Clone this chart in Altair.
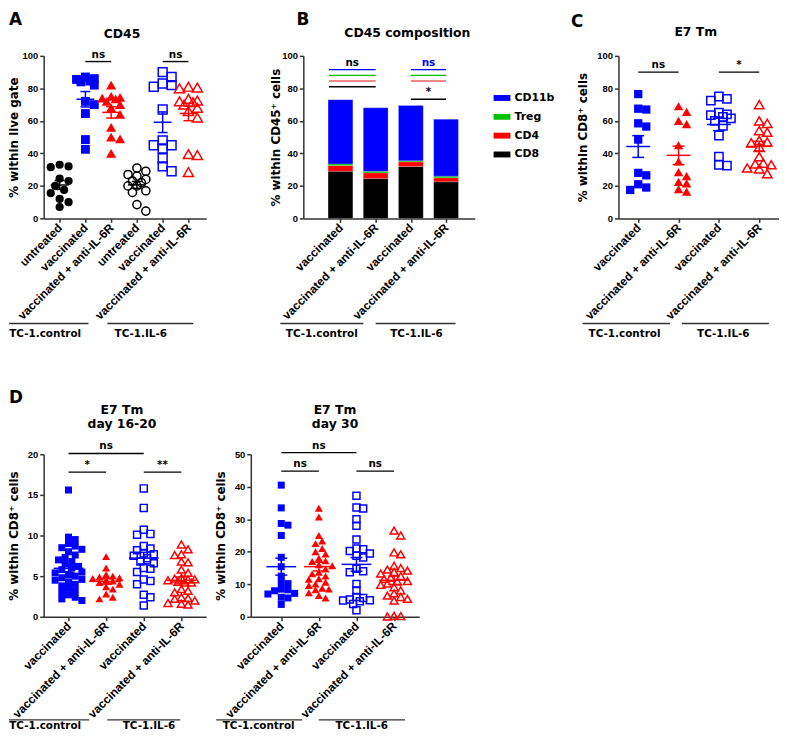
import altair as alt
import numpy as np
import pandas as pd

FT = "DejaVu Sans"
FL = "Liberation Sans"
BLUE = "#0000FF"
RED = "#FF0000"
BLACK = "#000000"
GREEN = "#00C000"
SALMON = "#F06060"
AXC = "#333333"

# ---------------- data ----------------
A_labels = ["untreated", "vaccinated", "vaccinated + anti-IL-6R",
            "untreated", "vaccinated", "vaccinated + anti-IL-6R"]
V_labels = ["vaccinated", "vaccinated + anti-IL-6R", "vaccinated", "vaccinated + anti-IL-6R"]
group_names = ["TC-1.control", "TC-1.IL-6"]

A_untreated_ctrl = [33, 32, 31.5, 24.5, 23, 20, 17.5, 15.5, 12, 10, 7]
A_vacc_ctrl = [87, 86, 85.5, 84.5, 84, 82, 72, 70, 64.5, 48.5, 42.5]
A_anti_ctrl = [82, 75, 74.5, 74, 73.5, 72, 70, 68, 64, 56, 50, 49, 40]
A_untreated_il6 = [31, 29, 27, 26, 24, 23, 22, 20, 20, 17, 16, 8.5, 4.5]
A_vacc_il6 = [90, 87, 83, 82, 81, 67, 48, 45, 45, 43, 37, 32, 29]
A_anti_il6 = [81, 80.5, 80, 73.5, 72.5, 72, 71.5, 70, 68, 66, 62, 39.5, 39, 28.5]

B_cells = ["CD11b", "Treg", "CD4", "CD8"]
B_CD8 = [29, 24.5, 32, 22.5]
B_CD4 = [3.5, 3.5, 2.8, 2.5]
B_Treg = [1, 1, 0.7, 1]
B_CD11b = [39.5, 39, 34, 35]

C_vacc_ctrl = [76.5, 67.5, 67, 58.5, 56.5, 48.5, 28, 26.5, 21, 19, 17.5]
C_anti_ctrl = [69, 65.5, 60, 58, 45, 35, 28.5, 26, 22.5, 21.5, 18, 16.5]
C_vacc_il6 = [75, 73.5, 72.5, 65, 64, 63.5, 62.5, 61.5, 60, 57, 51, 38, 33, 32.5]
C_anti_il6 = [70, 60, 58.5, 54, 53, 48, 47, 46.5, 44, 38, 34, 33.5, 33, 31, 30.5, 27.5]

D1_vacc_ctrl = [15.6, 9.8, 9.5, 9.0, 8.7, 8.5, 8.3, 8.0, 7.6, 7.3, 7.0, 6.8, 6.5, 6.2, 6.0, 5.8,
                5.5, 5.4, 5.2, 5.0, 4.8, 4.6, 4.5, 4.3, 4.0, 3.8, 3.5, 3.2, 3.0, 2.7, 2.4, 2.2, 2.0]
D1_anti_ctrl = [7.4, 6.0, 5.2, 5.0, 4.9, 4.8, 4.7, 4.5, 4.4, 4.2, 4.0, 3.7, 3.4, 2.8, 2.4, 2.2]
D1_vacc_il6 = [15.8, 13.4, 10.7, 10.2, 10.1, 8.7, 8.4, 8.2, 7.8, 7.7, 7.5, 7.2, 6.8, 6.6, 6.0,
               5.9, 5.5, 4.6, 4.4, 4.0, 2.7, 2.4, 1.4]
D1_anti_il6 = [8.9, 8.3, 7.7, 7.6, 6.8, 6.7, 5.8, 5.4, 4.8, 4.7, 4.6, 4.5, 4.3, 4.2, 4.6, 4.2,
               3.4, 3.2, 3.0, 2.4, 2.3, 2.2, 2.0, 1.7, 1.6, 1.5]

D2_vacc_ctrl = [40.5, 33.5, 28.7, 28.2, 25, 18.3, 15.4, 12.5, 10.5, 10.2, 8.5, 8.3, 8.0, 7.2,
                7.0, 6.0, 5.8, 3.8]
D2_anti_ctrl = [33.4, 30.7, 25, 23.3, 22.5, 21, 20, 19.3, 18, 17.2, 17, 16, 15.7, 14.7, 13.7,
                13.2, 12.5, 11.7, 11.5, 10.6, 10.1, 9.6, 8.8, 8.5, 8.3, 7.4, 6.5, 5.8]
D2_vacc_il6 = [37.2, 33.6, 33.3, 30, 28, 23.8, 21, 20.8, 20.2, 19.5, 18.8, 18.2, 14.8, 14, 13.7,
               10.1, 8.1, 6.1, 5.8, 5.3, 5.1, 5, 4.8, 3.9, 2.0]
D2_anti_il6 = [26.5, 25, 19.8, 19.2, 15.7, 15, 14.5, 14.2, 13.8, 13.3, 12.5, 12, 11.7, 11, 10.8,
               10.2, 9.8, 9.1, 8.1, 7.2, 6.5, 6.1, 5.5, 5, 0.3, 0.2, 0.1]

# significance annotations
A_sig = dict(x1=[1, 4], x2=[2, 5], y=[96.5, 96.5], t=["ns", "ns"])
B_sig = dict(x1=[-0.33] * 4 + [2] * 4, x2=[1] * 4 + [3] * 4,
             y=[91.5, 88, 84.5, 81, 91.5, 88, 84.5, 73.3],
             t=["ns", "", "", "", "ns", "", "", "*"])
C_sig = dict(x1=[0, 2], x2=[1, 3], y=[90, 90], t=["ns", "*"])
D1_sig = dict(x1=[0, 0, 2], x2=[2, 1, 3], y=[20.1, 17.8, 17.8], t=["ns", "*", "**"])
D2_sig = dict(x1=[0, 0, 2], x2=[2, 1, 3], y=[50.5, 44.8, 44.8], t=["ns", "ns", "ns"])


# ---------------- helpers ----------------
def swarm(values, ppu, diam, max_px):
    vals = np.asarray(values, float)
    order = np.argsort(-vals, kind="stable")
    step = diam * 0.45
    cands = [0.0]
    k = 1
    while k * step <= max_px + 1e-9:
        cands += [k * step, -k * step]
        k += 1
    mind = diam * 0.8
    placed = []
    off = np.zeros(len(vals))
    for i in order:
        y = vals[i] * ppu
        best = None
        for c in cands:
            if all((c - px) ** 2 + (y - py) ** 2 >= mind ** 2 for px, py in placed):
                best = c
                break
        if best is None:
            best = max(cands, key=lambda c: min((c - px) ** 2 + (y - py) ** 2 for px, py in placed))
        placed.append((best, y))
        off[i] = best
    return off


def axis_x(labels):
    arr = "[" + ",".join("'%s'" % s for s in labels) + "]"
    return alt.Axis(values=list(range(len(labels))), labelExpr=arr + "[datum.value]",
                    labelAngle=-45, labelAlign="right", labelBaseline="middle",
                    labelFont=FL, labelFontSize=12, labelFontWeight="bold", labelColor="black",
                    labelPadding=3, labelOverlap=False, labelBound=False, labelFlush=False,
                    tickSize=4, tickWidth=1.5, tickColor=AXC, domainColor=AXC, domainWidth=1.5,
                    grid=False)


def axis_y(ticks, tx, h):
    return alt.Axis(values=ticks, labelFont=FL, labelFontSize=9.5, labelFontWeight="bold",
                    labelColor="black", labelPadding=2, tickSize=4, tickWidth=1.5, tickColor=AXC,
                    domainColor=AXC, domainWidth=1.5, grid=False,
                    titleFont=FT, titleFontSize=12, titleFontWeight="bold", titleColor="black",
                    titleX=tx, titleY=h / 2, titleAngle=-90, titleAlign="center",
                    titleBaseline="middle")


def decorations(p, X, Y):
    H = p["H"]
    layers = []
    s = p["sig"]
    sdf = pd.DataFrame({"x1": s["x1"], "x2": s["x2"], "y": s["y"], "t": s["t"],
                        "c": p.get("sig_c", [BLACK] * len(s["y"])),
                        "tc": p.get("sig_tc", [BLACK] * len(s["y"]))})
    layers.append(alt.Chart(sdf).mark_rule(strokeWidth=1.4).encode(
        x=X("x1"), x2="x2", y=Y("y"), color=alt.Color("c:N", scale=None)))
    layers.append(alt.Chart(sdf).transform_calculate(xm="(datum.x1+datum.x2)/2").mark_text(
        font=FT, fontSize=10.5, fontWeight="bold", dy=-4, baseline="alphabetic").encode(
        x=X("xm"), y=Y("y"), text="t:N", color=alt.Color("tc:N", scale=None)))
    g = p["glab"]
    gdf = pd.DataFrame({"t": group_names, "x1": g[0], "x2": g[1], "xt": g[2]})
    layers.append(alt.Chart(gdf).mark_rule(strokeWidth=1.4, color=AXC).encode(
        x=X("x1"), x2="x2", y=alt.value(H + p["gl_line"])))
    layers.append(alt.Chart(gdf).mark_text(font=FT, fontSize=10.5, fontWeight="bold",
                                           baseline="middle", color="black").encode(
        x=X("xt"), y=alt.value(H + p["gl_text"]), text="t:N"))
    tdf = pd.DataFrame({"t": [p["title"]]})
    layers.append(alt.Chart(tdf).mark_text(font=FT, fontSize=12.5, fontWeight="bold",
                                           baseline="top", align="center", lineBreak="\n",
                                           lineHeight=14, color="black").encode(
        x=alt.value(p["title_x"]), y=alt.value(p["title_y"]), text="t:N"))
    if p["letter"]:
        ldf = pd.DataFrame({"t": [p["letter"]]})
        layers.append(alt.Chart(ldf).mark_text(font=FT, fontSize=17, fontWeight="bold",
                                               baseline="top", align="left", color="black").encode(
            x=alt.value(p["letter_x"]), y=alt.value(p["letter_y"]), text="t:N"))
    return layers


def scales(p):
    lo, hi = p["xdom"]
    xs = alt.Scale(domain=[lo, hi], nice=False, zero=False)
    ys = alt.Scale(domain=[0, p["ymax"]], nice=False, zero=True)
    xa = axis_x(p["labels"])
    ya = axis_y(p["yticks"], p["ytx"], p["H"])

    def X(f):
        return alt.X(f, type="quantitative", scale=xs, axis=xa, title=None)

    def Y(f, **kw):
        return alt.Y(f, type="quantitative", scale=ys, axis=ya, title=p["ytitle"], **kw)
    return X, Y


def scatter_panel(p):
    W, H = p["W"], p["H"]
    lo, hi = p["xdom"]
    ppi = W / (hi - lo)
    ppu = H / p["ymax"]
    X, Y = scales(p)
    layers = []
    rows = []
    for gi, g in enumerate(p["groups"]):
        vals = g["v"]
        offs = swarm(vals, ppu, p["diam"], p["spread"])
        df = pd.DataFrame({"x": gi + offs / ppi, "v": vals})
        tri = g["shape"] == "triangle-up"
        size = p["size"] * (1.3 if tri else 1.0)
        if g["shape"] == "circle":
            size = p["size"] * 0.85
        kw = dict(shape=g["shape"], filled=g["filled"], color=g["color"], size=size, opacity=1)
        if not g["filled"]:
            kw["strokeWidth"] = 1.5
        layers.append(alt.Chart(df).mark_point(**kw).encode(x=X("x"), y=Y("v")))
        rows += [{"g": gi, "v": v, "c": g["color"]} for v in vals]
    alld = pd.DataFrame(rows)
    mh = p["mean_half"] / ppi
    ch = p["cap_half"] / ppi
    base = alt.Chart(alld).transform_aggregate(
        m="mean(v)", s="stderr(v)", groupby=["g", "c"]).transform_calculate(
        lo="datum.m-datum.s", hi="datum.m+datum.s",
        a="datum.g-%f" % mh, b="datum.g+%f" % mh,
        ca="datum.g-%f" % ch, cb="datum.g+%f" % ch)
    col = alt.Color("c:N", scale=None)
    layers.append(base.mark_rule(strokeWidth=1.5).encode(x=X("a"), x2="b", y=Y("m"), color=col))
    layers.append(base.mark_rule(strokeWidth=1.5).encode(x=X("g"), y=Y("lo"), y2="hi", color=col))
    layers.append(base.mark_rule(strokeWidth=1.5).encode(x=X("ca"), x2="cb", y=Y("lo"), color=col))
    layers.append(base.mark_rule(strokeWidth=1.5).encode(x=X("ca"), x2="cb", y=Y("hi"), color=col))
    layers += decorations(p, X, Y)
    return alt.layer(*layers).properties(width=W, height=H)


def bar_panel(p, legend_x):
    W, H = p["W"], p["H"]
    X, Y = scales(p)
    rows = []
    series = {"CD8": B_CD8, "CD4": B_CD4, "Treg": B_Treg, "CD11b": B_CD11b}
    order = {"CD8": 0, "CD4": 1, "Treg": 2, "CD11b": 3}
    for i in range(len(p["labels"])):
        for cell, arr in series.items():
            rows.append({"x": i, "v": arr[i], "cell": cell, "o": order[cell]})
    bdf = pd.DataFrame(rows)
    leg = alt.Legend(orient="none", legendX=legend_x, legendY=34, title=None,
                     symbolType="M-1,-0.35H1V0.35H-1Z", symbolSize=289, symbolStrokeWidth=0,
                     symbolOpacity=1, labelFont=FT, labelFontSize=11, labelFontWeight="bold",
                     labelColor="black", labelOffset=4, rowPadding=5, padding=0)
    bars = alt.Chart(bdf).mark_bar(size=25, stroke="white", strokeWidth=0.4, strokeOpacity=0.5).encode(
        x=X("x"), y=Y("v", stack="zero"),
        color=alt.Color("cell:N", scale=alt.Scale(domain=B_cells, range=[BLUE, GREEN, RED, BLACK]),
                        legend=leg),
        order=alt.Order("o:Q"))
    layers = [bars] + decorations(p, X, Y)
    return alt.layer(*layers).properties(width=W, height=H)


def grp(v, shape, filled, color):
    return dict(v=v, shape=shape, filled=filled, color=color)


A = dict(W=164, H=164, xdom=(-0.62, 5.69), ymax=100, yticks=[0, 20, 40, 60, 80, 100],
         ytitle="% within live gate", ytx=-30, labels=A_labels,
         groups=[grp(A_untreated_ctrl, "circle", True, BLACK),
                 grp(A_vacc_ctrl, "square", True, BLUE),
                 grp(A_anti_ctrl, "triangle-up", True, RED),
                 grp(A_untreated_il6, "circle", False, BLACK),
                 grp(A_vacc_il6, "square", False, BLUE),
                 grp(A_anti_il6, "triangle-up", False, RED)],
         size=80, diam=10, spread=13, mean_half=9, cap_half=5, sig=A_sig,
         glab=([-1.96, 1.85], [1.12, 5.19], [-0.56, 3.15]), gl_line=106, gl_text=117,
         title="CD45", title_x=79, title_y=-28.5, letter="A", letter_x=-35, letter_y=-44)

B = dict(W=173, H=164, xdom=(-0.915, 3.675), ymax=100, yticks=[0, 20, 40, 60, 80, 100],
         ytitle="% within CD45\u207a cells", ytx=-28, labels=V_labels, sig=B_sig,
         sig_c=[BLUE, GREEN, SALMON, BLACK] * 2,
         sig_tc=[BLACK, BLACK, BLACK, BLACK, BLUE, BLACK, BLACK, BLACK],
         glab=([-1.71, 1.0], [0.65, 3.27], [-0.53, 2.16]), gl_line=106, gl_text=117,
         title="CD45 composition", title_x=105, title_y=-29.5, letter="B", letter_x=-7,
         letter_y=-44)

C = dict(W=162, H=164, xdom=(-0.49, 3.49), ymax=100, yticks=[0, 20, 40, 60, 80, 100],
         ytitle="% within CD8\u207a cells", ytx=-36, labels=V_labels,
         groups=[grp(C_vacc_ctrl, "square", True, BLUE),
                 grp(C_anti_ctrl, "triangle-up", True, RED),
                 grp(C_vacc_il6, "square", False, BLUE),
                 grp(C_anti_il6, "triangle-up", False, RED)],
         size=70, diam=9, spread=15, mean_half=12, cap_half=6, sig=C_sig,
         glab=([-1.38, 1.08], [0.79, 3.24], [-0.34, 2.11]), gl_line=106, gl_text=117,
         title="E7 Tm", title_x=78, title_y=-30, letter="C", letter_x=-48, letter_y=-42)

D1 = dict(W=164, H=164, xdom=(-0.66, 3.66), ymax=20, yticks=[0, 5, 10, 15, 20],
          ytitle="% within CD8\u207a cells", ytx=-30, labels=V_labels,
          groups=[grp(D1_vacc_ctrl, "square", True, BLUE),
                  grp(D1_anti_ctrl, "triangle-up", True, RED),
                  grp(D1_vacc_il6, "square", False, BLUE),
                  grp(D1_anti_il6, "triangle-up", False, RED)],
          size=50, diam=7.5, spread=14, mean_half=15, cap_half=6, sig=D1_sig,
          glab=([-1.58, 1.03], [0.55, 2.97], [-0.62, 2.14]), gl_line=104, gl_text=110,
          title="E7 Tm\nday 16-20", title_x=79, title_y=-50.5, letter="D", letter_x=-35,
          letter_y=-65)

D2 = dict(W=170, H=164, xdom=(-0.81, 3.67), ymax=50, yticks=[0, 10, 20, 30, 40, 50],
          ytitle="% within CD8\u207a cells", ytx=-31, labels=V_labels,
          groups=[grp(D2_vacc_ctrl, "square", True, BLUE),
                  grp(D2_anti_ctrl, "triangle-up", True, RED),
                  grp(D2_vacc_il6, "square", False, BLUE),
                  grp(D2_anti_il6, "triangle-up", False, RED)],
          size=50, diam=7.5, spread=14, mean_half=15, cap_half=6, sig=D2_sig,
          glab=([-1.73, 1.0], [0.56, 3.29], [-0.6, 2.14]), gl_line=104, gl_text=110,
          title="E7 Tm\nday 30", title_x=85, title_y=-50.5, letter="", letter_x=0, letter_y=0)


def spacer(w, h):
    return alt.Chart(pd.DataFrame({"a": [0]})).mark_point(opacity=0).encode(
        x=alt.value(0), y=alt.value(0)).properties(width=w, height=h)


GAP_AB, GAP_BC = 98, 145
top = alt.hconcat(scatter_panel(A), spacer(GAP_AB, 164),
                  bar_panel(B, legend_x=A["W"] + GAP_AB + 192), spacer(GAP_BC, 164),
                  scatter_panel(C), spacing=0, bounds="flush")
bottom = alt.hconcat(scatter_panel(D1), spacer(45, 164), scatter_panel(D2),
                     spacing=0, bounds="flush")
# nested rows report no height under flush bounds, so the row gap includes the row height
chart = alt.vconcat(top, bottom, spacing=402, bounds="flush").properties(
    padding=0).configure_view(stroke=None)

chart.save("out.html", embed_options={"renderer": "svg", "actions": False})
